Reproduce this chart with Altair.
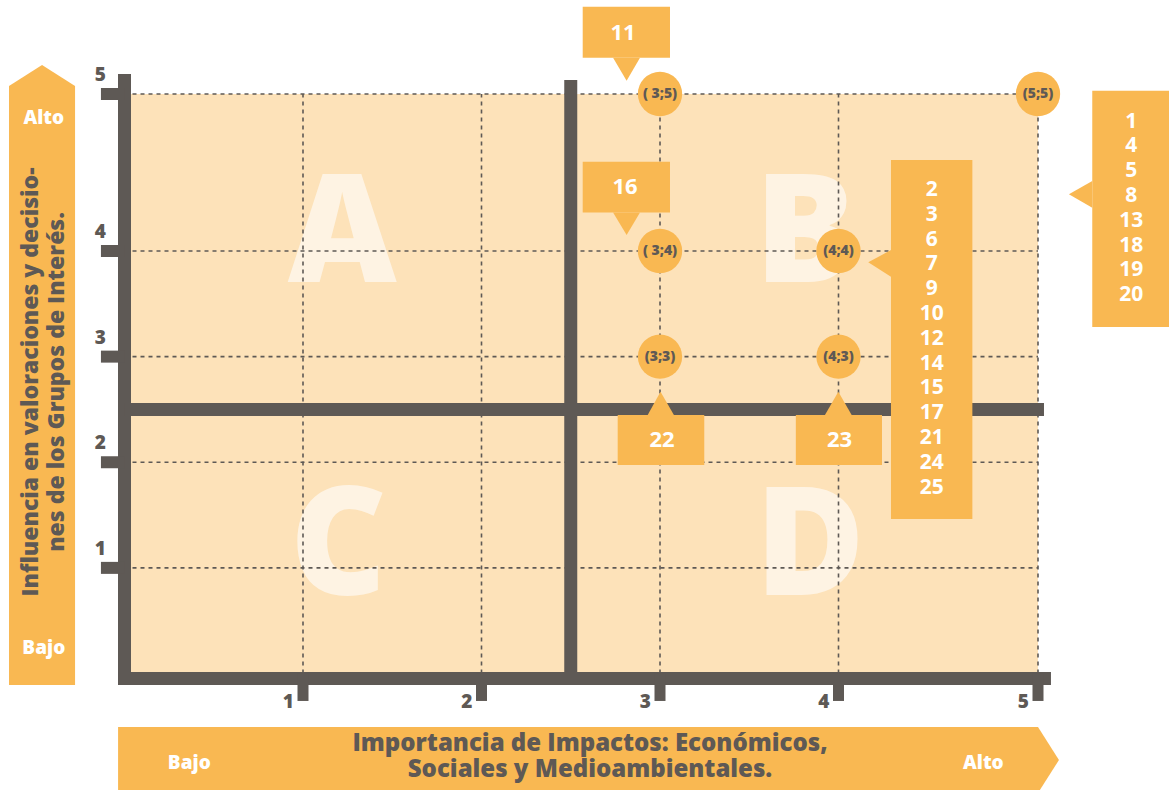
import altair as alt
import pandas as pd

# ---------------- data ----------------
point_x = [3, 5, 3, 4, 3, 4]
point_y = [5, 5, 4, 4, 3, 3]
point_label = ["( 3;5)", "(5;5)", "( 3;4)", "(4;4)", "(3;3)", "(4;3)"]

issues_35 = ["11"]
issues_34 = ["16"]
issues_33 = ["22"]
issues_43 = ["23"]
issues_44 = ["2", "3", "6", "7", "9", "10", "12", "14", "15", "17", "21", "24", "25"]
issues_55 = ["1", "4", "5", "8", "13", "18", "19", "20"]

tick_values = [1, 2, 3, 4, 5]
tick_labels = ["1", "2", "3", "4", "5"]
quadrant_names = ["A", "B", "C", "D"]

x_title = "Importancia de Impactos: Económicos,\nSociales y Medioambientales."
y_title = "Influencia en valoraciones y decisio-\nnes de los Grupos de Interés."
low_text = "Bajo"
high_text = "Alto"

# ---------------- styling ----------------
ORANGE = "#F9B852"
PEACH = "#FDE2B9"
DARK = "#5E5955"
FONT = "Open Sans"
W = 800

XS = alt.Scale(domain=[0, 4, 5], range=[124.5, 838.5, 1038], nice=False, zero=False)
YS = alt.Scale(domain=[0, 4, 5], range=[673.5, 251, 94], nice=False, zero=False)


def X(f):
    return alt.X(f, type="quantitative", scale=XS, axis=None)


def Y(f):
    return alt.Y(f, type="quantitative", scale=YS, axis=None)


# ---------------- layout tables (data units) ----------------
callouts = pd.DataFrame({
    "txt": ["\n".join(issues_35), "\n".join(issues_34), "\n".join(issues_33),
            "\n".join(issues_43), "\n".join(issues_44), "\n".join(issues_55)],
    "x0": [2.567, 2.567, 2.763, 3.761, 4.263, 5.272],
    "x1": [3.056, 3.056, 3.248, 4.218, 4.671, 5.75],
    "y0": [5.231, 4.246, 1.974, 1.974, 1.463, 3.280],
    "y1": [5.556, 4.569, 2.447, 2.447, 4.580, 5.021],
    "tx": [2.793, 2.804, 3.011, 4.005, 4.467, 5.468],
    "ty": [5.389, 4.410, 2.211, 2.211, 4.389, 4.824],
})
single = callouts.iloc[:4]
lists = callouts.iloc[4:]

vpointers = pd.DataFrame({
    "id": ["a"] * 3 + ["b"] * 3 + ["c"] * 3 + ["d"] * 3 + ["yarrow"] * 3,
    "x": [2.737, 2.813, 2.888, 2.737, 2.813, 2.888, 2.931, 3.003, 3.078, 3.924, 3.999, 4.066,
          -0.647, -0.462, -0.277],
    "y": [5.231, 5.085, 5.231, 4.246, 4.102, 4.246, 2.447, 2.668, 2.447, 2.447, 2.668, 2.447,
          5.051, 5.185, 5.051],
    "y2": [5.231] * 3 + [4.246] * 3 + [2.447] * 3 + [2.447] * 3 + [5.051] * 3,
})
hpointers = pd.DataFrame({
    "id": ["e"] * 3 + ["f"] * 3 + ["xarrow"] * 3,
    "y": [3.757, 3.893, 4.006, 4.276, 4.361, 4.446, -1.131, -0.819, -0.507],
    "x": [4.263, 4.149, 4.263, 5.272, 5.155, 5.272, 5.0, 5.105, 5.0],
    "x2": [4.263] * 3 + [5.272] * 3 + [5.0] * 3,
})

title_bars = pd.DataFrame({
    "x0": [-0.647, -0.036], "x1": [-0.277, 5.0],
    "y0": [-0.109, -1.131], "y1": [5.051, -0.507],
})

quadrants = pd.DataFrame({
    "q": quadrant_names,
    "x": [1.219, 3.812, 1.199, 3.840],
    "y": [3.709, 3.709, 0.740, 0.740],
})

vgrid = pd.DataFrame({"x": tick_values, "y0": [0] * 5, "y1": [5] * 5})
hgrid = pd.DataFrame({"y": tick_values, "x0": [0] * 5, "x1": [5] * 5})

axis_v = pd.DataFrame({"x": [0, 2.5], "y0": [-0.109, 0], "y1": [5.127, 5.089]})
axis_h = pd.DataFrame({"y": [-0.047, 2.5], "x0": [-0.036, 0], "x1": [5.065, 5.030]})

yticks = pd.DataFrame({"y": tick_values, "x0": [-0.132] * 5, "x1": [0] * 5, "lab": tick_labels,
                       "lx": [-0.104] * 5})
xticks = pd.DataFrame({"x": tick_values, "y0": [0] * 5, "y1": [-0.260] * 5, "lab": tick_labels,
                       "ly": [0] * 5})

points = pd.DataFrame({"x": point_x, "y": point_y, "lab": point_label})

end_labels = pd.DataFrame({
    "t": [high_text, low_text, low_text, high_text],
    "x": [-0.452, -0.452, 0.363, 4.726],
    "y": [4.847, 0.241, -0.843, -0.843],
})

titles = pd.DataFrame({"t": [x_title], "x": [2.608], "y": [-0.667]})
ytitles = pd.DataFrame({"t": [y_title], "x": [-0.524], "y": [2.760]})

peach = pd.DataFrame({"x0": [0], "x1": [5], "y0": [0], "y1": [5]})

# ---------------- layers ----------------
bars = alt.Chart(title_bars).mark_rect(color=ORANGE).encode(
    x=X("x0"), x2="x1", y=Y("y0"), y2="y1")
varrow = alt.Chart(vpointers).mark_area(color=ORANGE, orient="vertical").encode(
    x=X("x"), y=Y("y"), y2="y2", detail="id:N")
harrow = alt.Chart(hpointers).mark_area(color=ORANGE, orient="horizontal").encode(
    y=Y("y"), x=X("x"), x2="x2", detail="id:N")

bg = alt.Chart(peach).mark_rect(color=PEACH).encode(
    x=X("x0"), x2="x1", y=Y("y0"), y2="y1")

letters = alt.Chart(quadrants).mark_text(
    font=FONT, fontSize=150, fontWeight=W, color="white", opacity=0.6,
    align="center", baseline="alphabetic").encode(x=X("x"), y=Y("y"), text="q:N")

grid_v = alt.Chart(vgrid).mark_rule(color=DARK, strokeWidth=1.6, strokeDash=[4, 4]).encode(
    x=X("x"), y=Y("y0"), y2="y1")
grid_h = alt.Chart(hgrid).mark_rule(color=DARK, strokeWidth=1.6, strokeDash=[4, 4]).encode(
    y=Y("y"), x=X("x0"), x2="x1")

ax_v = alt.Chart(axis_v).mark_rule(color=DARK, strokeWidth=13).encode(
    x=X("x"), y=Y("y0"), y2="y1")
ax_h = alt.Chart(axis_h).mark_rule(color=DARK, strokeWidth=13).encode(
    y=Y("y"), x=X("x0"), x2="x1")
yt = alt.Chart(yticks).mark_rule(color=DARK, strokeWidth=12).encode(
    y=Y("y"), x=X("x0"), x2="x1")
xt = alt.Chart(xticks).mark_rule(color=DARK, strokeWidth=11).encode(
    x=X("x"), y=Y("y0"), y2="y1")
yt_lab = alt.Chart(yticks).mark_text(
    font=FONT, fontSize=19, fontWeight=W, color=DARK, align="right",
    baseline="middle", dy=-19).encode(x=X("lx"), y=Y("y"), text="lab:N")
xt_lab = alt.Chart(xticks).mark_text(
    font=FONT, fontSize=19, fontWeight=W, color=DARK, align="right",
    baseline="middle", dx=-9, dy=28).encode(x=X("x"), y=Y("ly"), text="lab:N")

circles = alt.Chart(points).mark_circle(color=ORANGE, opacity=1, size=1963).encode(
    x=X("x"), y=Y("y"))
circ_lab = alt.Chart(points).mark_text(
    font=FONT, fontSize=14, fontWeight=W, color=DARK, baseline="middle").encode(
    x=X("x"), y=Y("y"), text="lab:N")

boxes = alt.Chart(callouts).mark_rect(color=ORANGE).encode(
    x=X("x0"), x2="x1", y=Y("y0"), y2="y1")
single_txt = alt.Chart(single).mark_text(
    font=FONT, fontSize=22, fontWeight="bold", color="white", baseline="middle").encode(
    x=X("tx"), y=Y("ty"), text="txt:N")
list_txt = alt.Chart(lists).mark_text(
    font=FONT, fontSize=21, fontWeight="bold", color="white", baseline="middle",
    lineBreak="\n", lineHeight=24.8).encode(x=X("tx"), y=Y("ty"), text="txt:N")

ends = alt.Chart(end_labels).mark_text(
    font=FONT, fontSize=19, fontWeight=W, color="white", baseline="middle").encode(
    x=X("x"), y=Y("y"), text="t:N")
xtitle = alt.Chart(titles).mark_text(
    font=FONT, fontSize=24, fontWeight=W, color=DARK, baseline="middle",
    lineBreak="\n", lineHeight=26).encode(x=X("x"), y=Y("y"), text="t:N")
ytitle = alt.Chart(ytitles).mark_text(
    font=FONT, fontSize=23, fontWeight=W, color=DARK, baseline="middle", angle=270,
    lineBreak="\n", lineHeight=26).encode(x=X("x"), y=Y("y"), text="t:N")

chart = alt.layer(
    bars, bg, letters, grid_v, grid_h, ax_v, ax_h, yt, xt,
    circles, circ_lab, boxes, varrow, harrow, single_txt, list_txt, ends, xtitle, ytitle,
    yt_lab, xt_lab
).properties(
    width=1169, height=790, padding=0,
    autosize=alt.AutoSizeParams(type="none"),
    background="white",
).configure_view(stroke=None)

chart.save("out.html", embed_options={"renderer": "svg", "actions": False})
